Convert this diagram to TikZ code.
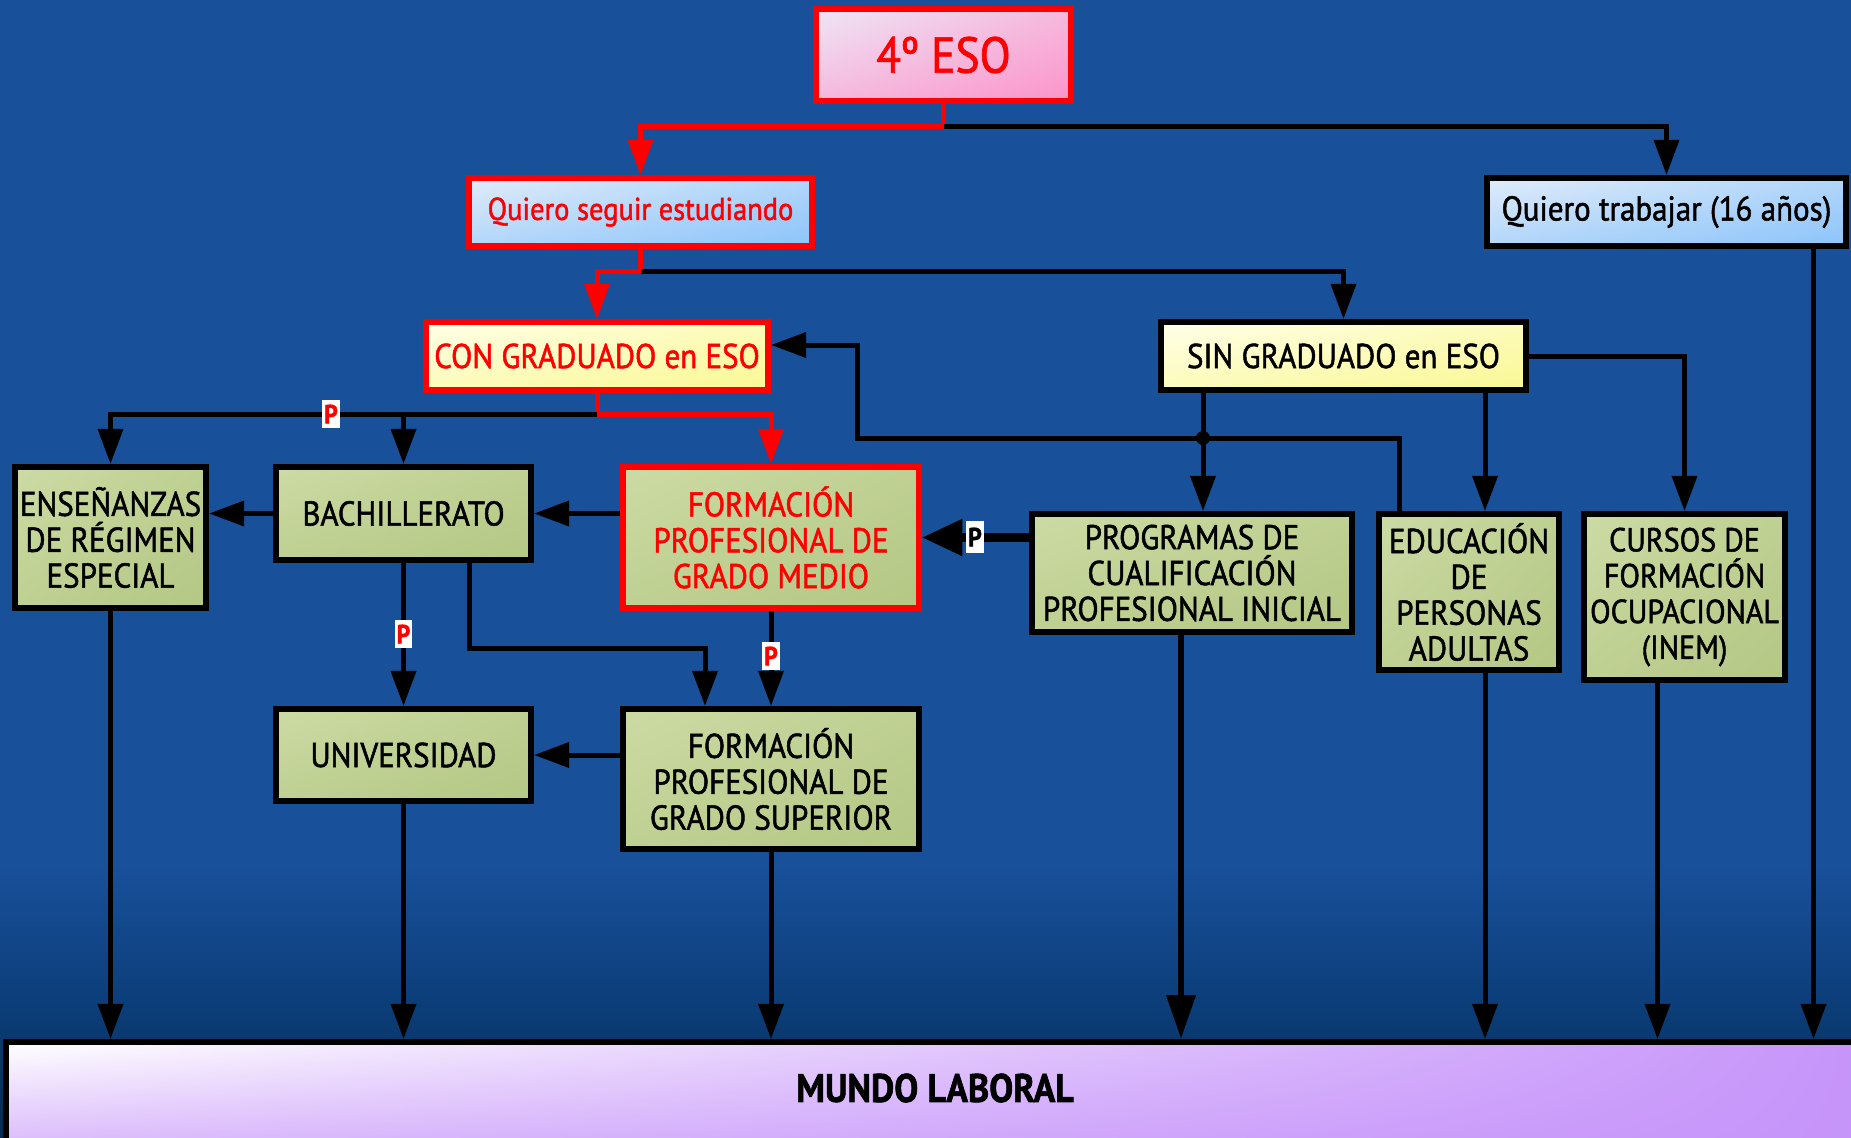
\documentclass[tikz,border=0pt]{standalone}
\usepackage{fontspec}
\setmainfont{PT Sans}[FakeStretch=0.9, FakeBold=1.4]
\usetikzlibrary{arrows.meta,calc,positioning,shadings}

\definecolor{fondoA}{RGB}{24,80,154}
\definecolor{fondoM}{RGB}{12,62,122}
\definecolor{fondoB}{RGB}{2,44,82}
\definecolor{rojo}{RGB}{255,0,0}
\definecolor{rosaA}{RGB}{238,230,246}
\definecolor{rosaB}{RGB}{252,148,202}
\definecolor{azulA}{RGB}{224,236,250}
\definecolor{azulB}{RGB}{140,196,250}
\definecolor{amarA}{RGB}{255,255,232}
\definecolor{amarB}{RGB}{250,248,148}
\definecolor{verdeA}{RGB}{204,219,164}
\definecolor{verdeB}{RGB}{180,199,132}
\definecolor{lilaA}{RGB}{255,255,255}
\definecolor{lilaB}{RGB}{198,148,250}

% la parte util de la sombra va de 25bp a 75bp
\pgfdeclareverticalshading{fondo}{100bp}{color(0bp)=(fondoB); color(25bp)=(fondoB);
    color(31bp)=(fondoM); color(37bp)=(fondoA); color(100bp)=(fondoA)}

\begin{document}
\begin{tikzpicture}[x=0.02cm, y=-0.02cm]
    \tikzstyle{caja}=[draw=black, line width=3.4pt, inner sep=0pt, align=center, text=black,
        font=\fontsize{19.6}{20.4}\selectfont]
    \tikzstyle{cajaroja}=[caja, draw=rojo, text=rojo]
    \tikzstyle{degradado}=[upper left=#1A, lower right=#1B, upper right=#1A!45!#1B, lower left=#1A!45!#1B]
    \tikzstyle{flecha}=[line width=2.85pt, -{Triangle[length=20pt, width=14pt]}]
    \tikzstyle{flecharoja}=[flecha, rojo]
    \tikzstyle{flechagorda}=[line width=4.6pt, -{Triangle[length=23pt, width=20pt]}]
    \tikzstyle{pasarela}=[fill=white, inner sep=1pt, minimum width=0.3cm, minimum height=0.56cm,
        font=\fontsize{15}{15}\selectfont\bfseries]

    % fondo
    \useasboundingbox (0,0) rectangle (1851,1137);
    \clip (0,0) rectangle (1851,1137);
    \shade[shading=fondo] (0,0) rectangle (1851,1137);

    % cajas
    \node[cajaroja, degradado=rosa, minimum width=5.1cm, minimum height=1.84cm,
        font=\fontsize{28.7}{30}\selectfont] (eso) at (943.5, 55) {4º ESO};
    \node[cajaroja, degradado=azul, minimum width=6.86cm, minimum height=1.36cm,
        font=\fontsize{18}{20}\selectfont] (seguir) at (640.5, 212) {Quiero seguir estudiando};
    \node[caja, degradado=azul, minimum width=7.18cm, minimum height=1.36cm] (trabajar) at (1666.5, 212) {Quiero trabajar (16 años)};
    \node[cajaroja, degradado=amar, minimum width=6.84cm, minimum height=1.36cm] (con) at (597, 356) {CON GRADUADO en ESO};
    \node[caja, degradado=amar, minimum width=7.3cm, minimum height=1.36cm] (sin) at (1343.5, 356) {SIN GRADUADO en ESO};

    \node[caja, degradado=verde, minimum width=3.82cm, minimum height=2.82cm] (ens) at (110.5, 537.5) {ENSEÑANZAS\\DE RÉGIMEN\\ESPECIAL};
    \node[caja, degradado=verde, minimum width=5.1cm, minimum height=1.86cm] (bach) at (403.5, 513.5) {BACHILLERATO};
    \node[cajaroja, degradado=verde, minimum width=5.92cm, minimum height=2.82cm] (fpm) at (771, 537.5) {FORMACIÓN\\PROFESIONAL DE\\GRADO MEDIO};
    \node[caja, degradado=verde, minimum width=6.4cm, minimum height=2.36cm] (pcpi) at (1192, 573) {PROGRAMAS DE\\CUALIFICACIÓN\\PROFESIONAL INICIAL};
    \node[caja, degradado=verde, minimum width=3.6cm, minimum height=3.12cm] (epa) at (1469, 592) {EDUCACIÓN\\DE\\PERSONAS\\ADULTAS};
    \node[caja, degradado=verde, minimum width=4.02cm, minimum height=3.32cm,
        font=\fontsize{19}{20.4}\selectfont] (cursos) at (1684.5, 597) {CURSOS DE\\FORMACIÓN\\OCUPACIONAL\\(INEM)};
    \node[caja, degradado=verde, minimum width=5.1cm, minimum height=1.84cm] (uni) at (403.5, 755) {UNIVERSIDAD};
    \node[caja, degradado=verde, minimum width=5.92cm, minimum height=2.8cm] (fps) at (771, 779) {FORMACIÓN\\PROFESIONAL DE\\GRADO SUPERIOR};
    \node[caja, upper left=lilaA, upper right=lilaB, lower left=lilaB!75!white, lower right=lilaB,
        minimum width=37.2cm, minimum height=2.4cm] (mundo) at (936, 1102) {};
    \node[font=\fontsize{22.7}{25}\selectfont\bfseries] (mundotxt) at (935, 1088) {MUNDO LABORAL};

    % puntos de paso
    \coordinate (ramaCon) at (597, 414);
    \coordinate (cruce) at (1203, 438);
    \coordinate (subida) at (1399, 438);
    \coordinate (codo) at (857, 345);
    \coordinate (epaIn) at (1485, 0);
    \coordinate (desvio) at (469, 648);
    \coordinate (fpsIn) at (705, 706);

    % desde 4 ESO
    \draw[flecharoja] (eso.south) -- ++(0,23) -| (seguir.north);
    \draw[flecha] (eso.south) ++(0,23) -| (trabajar.north);
    \draw[flecharoja] (seguir.south) -- ++(0,23) -| (con.north);
    \draw[flecha] (seguir.south) ++(0,23) -| (sin.north);

    % con graduado
    \draw[flecharoja] (con.south) -- (ramaCon) -| (fpm.north);
    \draw[flecha] (ramaCon) -| (ens.north);
    \draw[flecha] (ramaCon -| bach.north) -- (bach.north);
    \draw[flecha] (bach.west) -- (bach.west -| ens.east);
    \draw[flecha] (fpm.west |- bach.east) -- (bach.east);
    \draw[flecha] (bach.south) -- (uni.north);
    \draw[flecha] (bach.south -| desvio) -- (desvio) -| (fpsIn);
    \draw[flecha] (fpm.south) -- (fps.north);
    \draw[flecha] (fps.west |- uni.east) -- (uni.east);

    % sin graduado
    \draw[flecha] (sin.south -| cruce) -- (pcpi.north -| cruce);
    \draw[flecha] (epa.north -| subida) -- (subida) -- (subida -| codo) -- (codo) -- (codo -| con.east);
    \fill (cruce) circle[radius=4pt];
    \draw[flecha] (sin.south -| epaIn) -- (epa.north -| epaIn);
    \draw[flecha] (sin.east) -| (cursos.north);
    \draw[flechagorda] (pcpi.west |- fpm.east) -- (fpm.east);

    % al mundo laboral
    \foreach \n/\dx in {ens/0, uni/0, fps/0, epa/16, cursos/-27, trabajar/147} {
        \coordinate (baja) at ($(\n.south)+(\dx,0)$);
        \draw[flecha] (baja) -- (baja |- mundo.north);
    }
    \coordinate (bajaP) at ($(pcpi.south)+(-11,0)$);
    \draw[line width=3.8pt, -{Triangle[length=25pt, width=16pt]}] (bajaP) -- (bajaP |- mundo.north);

    % pasarelas
    \node[pasarela, text=rojo] (p1) at (331, 414) {P};
    \node[pasarela, text=rojo] (p2) at (403.5, 634) {P};
    \node[pasarela, text=rojo] (p3) at (771, 656) {P};
    \node[pasarela, text=black, minimum width=0.34cm, minimum height=0.64cm] (p4) at (975, 537) {P};
\end{tikzpicture}
\end{document}
